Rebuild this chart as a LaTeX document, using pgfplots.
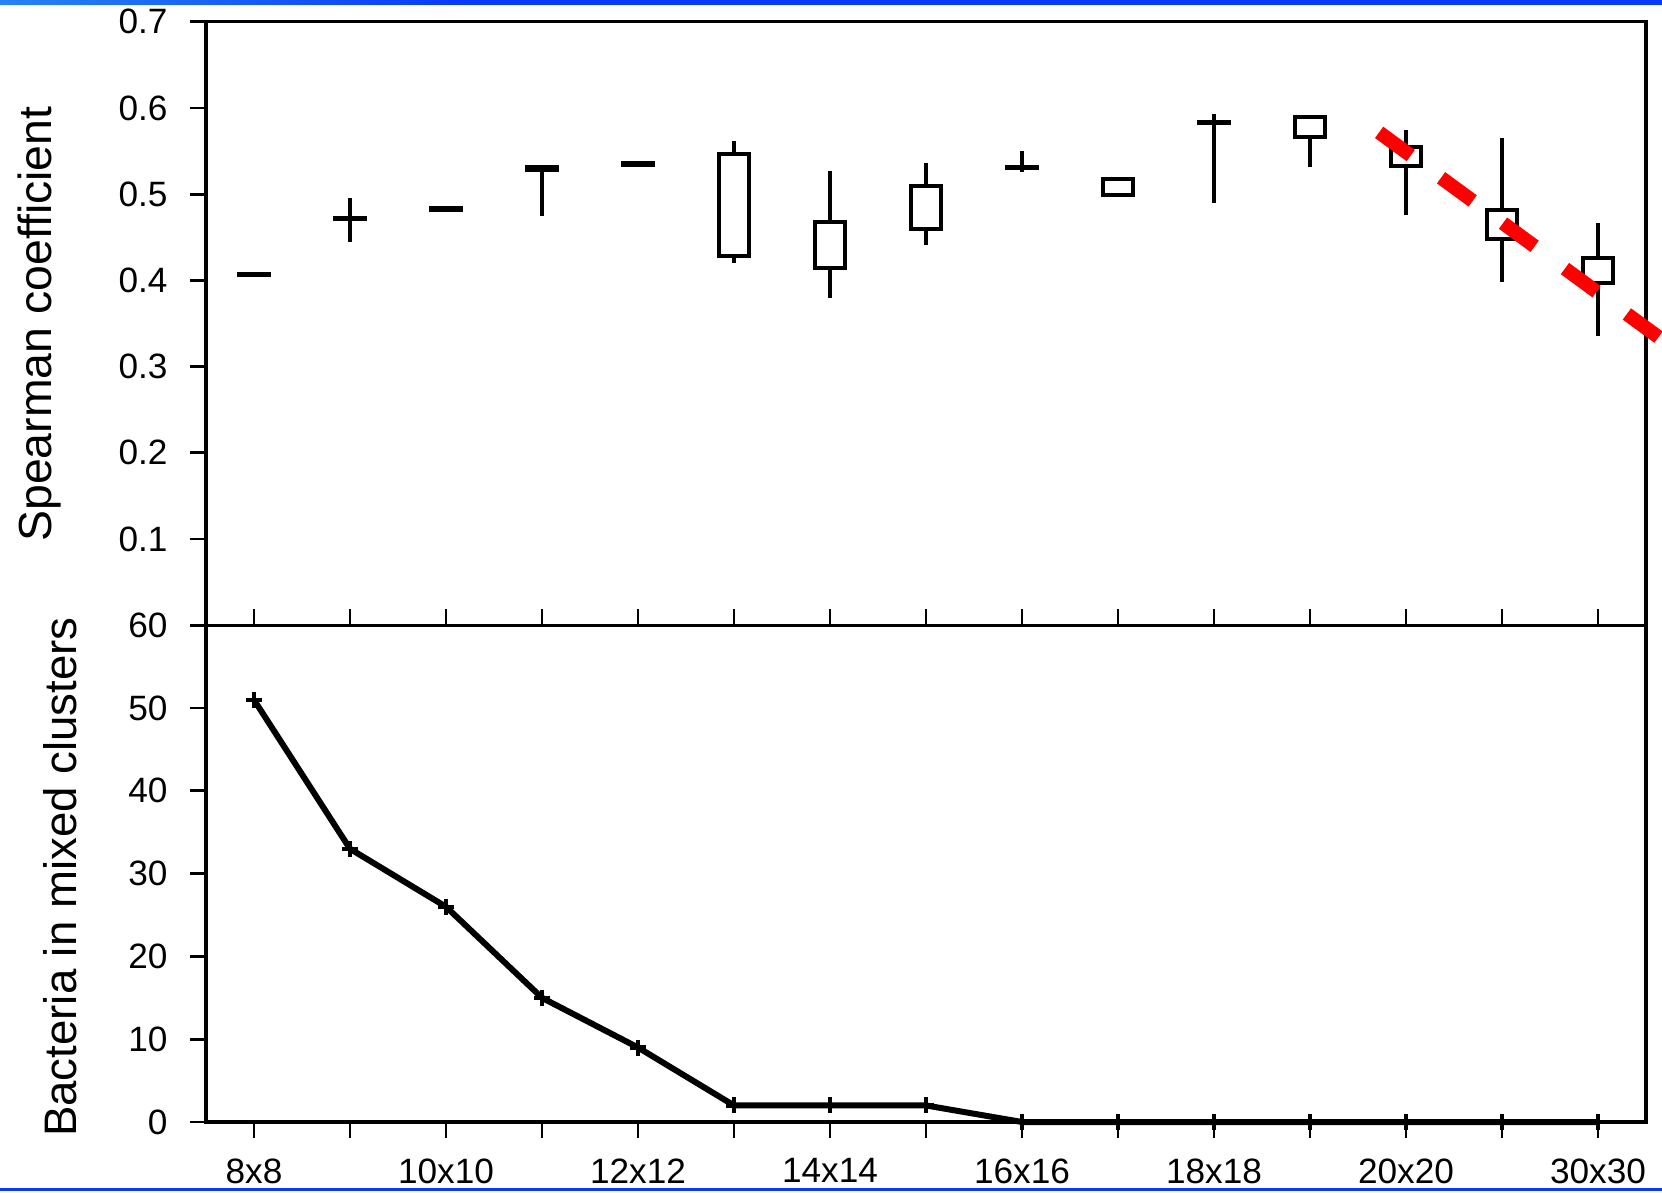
\documentclass[border=0pt]{standalone}
\usepackage{fontspec}
\setmainfont{Liberation Sans}
\usepackage{pgfplots}
\pgfplotsset{compat=1.18}
\usepgfplotslibrary{statistics}
\definecolor{slideblue}{RGB}{8,58,250}
\definecolor{slidelight}{RGB}{40,130,245}

\pgfplotsset{
  common/.style={
    scale only axis, width=360pt, xmin=-0.5, xmax=14.5,
    axis line style={line width=0.8pt},
    every tick/.style={black, line width=0.7pt},
    major tick length=4pt,
    tick align=outside,
    ytick pos=left,
    /pgf/number format/assume math mode=true,
    tick label style={font=\fontsize{8.8}{10}\selectfont},
    yticklabel style={xshift=-2.1pt},
  },
}
% position, lower whisker, lower box edge, upper box edge, upper whisker
\newcommand{\candle}[5]{\addplot[black, line width=1pt, boxplot prepared={draw position=#1, lower whisker=#2, lower quartile=#3, median=#3, upper quartile=#4, upper whisker=#5}] coordinates {};}

\begin{document}
\begin{tikzpicture}
\begin{axis}[common,
  at={(51.5pt,141.675pt)}, anchor=south west, height=150.9pt,
  ymin=0, ymax=0.7, ytick={0.1,0.2,0.3,0.4,0.5,0.6,0.7},
  yticklabel style={/pgf/number format/fixed, /pgf/number format/fixed zerofill, /pgf/number format/precision=1},
  xtick=\empty, clip=false,
  ylabel={Spearman coefficient},
  ylabel style={at={(axis description cs:-0.107,0.499)}, anchor=base, font=\fontsize{11.6}{13}\selectfont},
  boxplot/draw direction=y, boxplot/box extend=0.32, boxplot/whisker extend=0,
]
\candle{0}{0.406}{0.406}{0.408}{0.408}
\candle{1}{0.444}{0.471}{0.472}{0.496}
\candle{2}{0.4815}{0.4815}{0.4835}{0.4835}
\candle{3}{0.475}{0.5276}{0.5319}{0.5319}
\candle{4}{0.5335}{0.5335}{0.5365}{0.5365}
\candle{5}{0.4197}{0.4278}{0.5467}{0.5621}
\candle{6}{0.3795}{0.4144}{0.4677}{0.5265}
\candle{7}{0.4410}{0.4600}{0.5095}{0.5358}
\candle{8}{0.5253}{0.5300}{0.5310}{0.5505}
\candle{9}{0.4986}{0.4986}{0.518}{0.518}
\candle{10}{0.4893}{0.5825}{0.5840}{0.5931}
\candle{11}{0.5319}{0.5664}{0.5896}{0.5896}
\candle{12}{0.4754}{0.5323}{0.5548}{0.5749}
\candle{13}{0.3976}{0.4484}{0.4817}{0.5652}
\candle{14}{0.3354}{0.3965}{0.4263}{0.4666}
\addplot[red, line width=3.5pt, dash pattern=on 9.8pt off 9.4pt, no marks] coordinates {(11.72,0.5717) (14.667,0.3312)};
\end{axis}

\begin{axis}[common,
  at={(51.5pt,17.5pt)}, anchor=south west, height=124.175pt,
  ymin=0, ymax=60, ytick={0,10,20,30,40,50,60},
  xtick={0,...,14},
  xticklabels={8x8,,10x10,,12x12,,14x14,,16x16,,18x18,,20x20,,30x30},
  xtick pos=both, xticklabel pos=lower,
  xticklabel style={yshift=-1.6pt},
  clip=false,
  ylabel={Bacteria in mixed clusters},
  ylabel style={at={(axis description cs:-0.090,0.493)}, anchor=base, font=\fontsize{11.4}{13}\selectfont},
]
\addplot[black, line width=1.5pt, mark=+, mark size=2pt, mark options={line width=1.1pt}] coordinates {
(0,51) (1,33) (2,26) (3,15) (4,9) (5,2) (6,2) (7,2) (8,0) (9,0) (10,0) (11,0) (12,0) (13,0) (14,0)
};
\end{axis}

\fill[slideblue] (0,296.75pt) rectangle (415.5pt,298pt);
\shade[left color=slidelight, right color=slideblue] (0,296.75pt) rectangle (115pt,298pt);
\fill[slideblue] (0,0.15pt) rectangle (415.5pt,1.1pt);
\pgfresetboundingbox
\path[use as bounding box] (0,0) rectangle (415.5pt,298pt);
\end{tikzpicture}
\end{document}
